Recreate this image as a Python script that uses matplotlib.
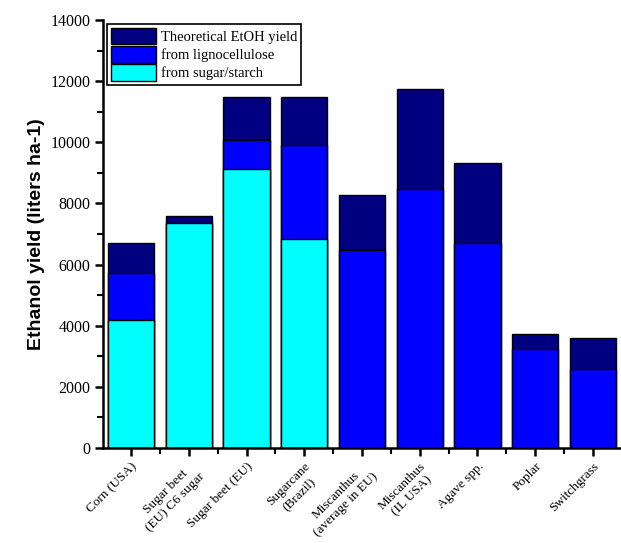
import numpy as np
import matplotlib.pyplot as plt
from matplotlib.ticker import MultipleLocator

# crops on the x axis
crops = ['Corn (USA)', 'Sugar beet\n(EU) C6 sugar', 'Sugar beet (EU)', 'Sugarcane\n(Brazil)',
         'Miscanthus\n(average in EU)', 'Miscanthus\n(IL USA)', 'Agave spp.', 'Poplar', 'Switchgrass']

# ethanol yield, liters per ha
theoretical = [6690, 7590, 11480, 11480, 8270, 11750, 9330, 3720, 3600]
sugar_starch = [4200, 7360, 9130, 6840, 0, 0, 0, 0, 0]
lignocellulose = [1530, 0, 940, 3080, 6480, 8470, 6710, 3250, 2600]

serif = ['Liberation Serif', 'DejaVu Serif']

x = np.arange(len(crops))
sugar = np.array(sugar_starch)
ligno = np.array(lignocellulose)
theo = np.array(theoretical)

fig = plt.figure(figsize=(6.21, 5.43), dpi=100)
ax = fig.add_axes([103 / 621, 95 / 543, 518 / 621, 428 / 543])

w = 0.8
ax.bar(x, theo, w, color='#000080', edgecolor='black', linewidth=1, label='Theoretical EtOH yield')
ax.bar(x, sugar + ligno, w, color='#0000FF', edgecolor='black', linewidth=1, label='from lignocellulose')
ax.bar(x, sugar, w, color='#00FFFF', edgecolor='black', linewidth=1, label='from sugar/starch')

ax.set_xlim(-0.485, 8.485)
ax.set_ylim(0, 14000)
ax.yaxis.set_major_locator(MultipleLocator(2000))
ax.yaxis.set_minor_locator(MultipleLocator(1000))
ax.set_xticks(x)
ax.set_xticks(x[:-1] + 0.5, minor=True)
ax.set_xticklabels(crops, rotation=45, ha='right', rotation_mode='anchor',
                   multialignment='center', fontsize=9.5, family=serif)
for lbl in ax.get_yticklabels():
    lbl.set_family(serif)
    lbl.set_fontsize(11.5)

ax.spines['top'].set_visible(False)
ax.spines['right'].set_visible(False)
ax.spines['left'].set_linewidth(1.8)
ax.spines['bottom'].set_linewidth(1.8)
ax.tick_params(which='major', direction='out', length=6, width=1.8, pad=3)
ax.tick_params(which='minor', direction='out', length=4, width=1.5)

ax.set_ylabel('Ethanol yield (liters ha-1)', fontsize=14, fontweight='bold',
              family='Liberation Sans', labelpad=4)

leg = ax.legend(loc='upper left', bbox_to_anchor=(0.0, 1.0), prop={'family': serif, 'size': 10.5},
                fancybox=False, edgecolor='black', framealpha=1, handlelength=3.1,
                handleheight=1.35, labelspacing=0.12, borderpad=0.3, handletextpad=0.3,
                borderaxespad=0.25)
leg.get_frame().set_linewidth(1.2)

fig.savefig('out.png', dpi=100)
